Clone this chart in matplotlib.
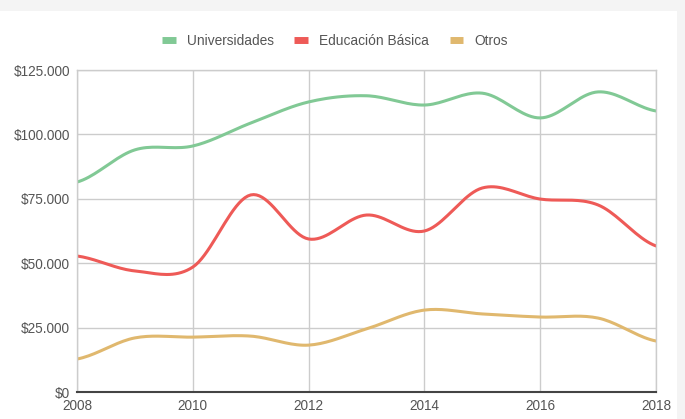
import matplotlib
matplotlib.use('Agg')
import matplotlib.pyplot as plt
from matplotlib.patches import Rectangle
import numpy as np

plt.rcParams['font.family'] = ['Liberation Sans', 'DejaVu Sans']

years = [2008, 2009, 2010, 2011, 2012, 2013, 2014, 2015, 2016, 2017, 2018]
universidades = [81500, 94000, 95500, 104400, 112600, 115000, 111400, 116000, 106400, 116500, 109100]
educacion = [52800, 47000, 48500, 76500, 59400, 68700, 62500, 79200, 74900, 72600, 56700]
otros = [12800, 21000, 21300, 21700, 18200, 24500, 31800, 30300, 29100, 28700, 19800]

names = ['Universidades', 'Educación Básica', 'Otros']
colors = ['#81c995', '#ee5a57', '#e0b86e']
yticks = [0, 25000, 50000, 75000, 100000, 125000]
xticks = [2008, 2010, 2012, 2014, 2016, 2018]


def smooth(x, y, n=20):
    # catmull-rom spline through the yearly points (drawing only)
    x = np.asarray(x, float)
    y = np.asarray(y, float)
    px = np.concatenate([[2 * x[0] - x[1]], x, [2 * x[-1] - x[-2]]])
    py = np.concatenate([[y[0]], y, [y[-1]]])
    xs, ys = [], []
    t = np.linspace(0, 1, n, endpoint=False)
    for i in range(1, len(px) - 2):
        for p, out in ((px, xs), (py, ys)):
            p0, p1, p2, p3 = p[i - 1], p[i], p[i + 1], p[i + 2]
            out.extend(0.5 * (2 * p1 + (-p0 + p2) * t
                              + (2 * p0 - 5 * p1 + 4 * p2 - p3) * t ** 2
                              + (-p0 + 3 * p1 - 3 * p2 + p3) * t ** 3))
    xs.append(x[-1])
    ys.append(y[-1])
    return np.array(xs), np.array(ys)


fig = plt.figure(figsize=(6.85, 4.19), dpi=100)
fig.patch.set_facecolor('#f4f4f4')
fig.patches.append(Rectangle((0, 0), 677 / 685, 1 - 11 / 419, transform=fig.transFigure,
                             facecolor='white', edgecolor='none', zorder=-10))

ax = fig.add_axes([77 / 685, 1 - 392 / 419, (656 - 77) / 685, (392 - 70) / 419])
ax.set_facecolor('none')

for vals, name, c in zip([universidades, educacion, otros], names, colors):
    sx, sy = smooth(years, vals)
    ax.plot(sx, sy, color=c, lw=2.2, label=name, solid_capstyle='round')

ax.set_xlim(2008, 2018)
ax.set_ylim(0, 125000)
ax.set_xticks(xticks)
ax.set_yticks(yticks)
ax.set_yticklabels(['$0' if v == 0 else '$' + f'{v:,}'.replace(',', '.') for v in yticks])
ax.grid(True, color='#cccccc', lw=1)
ax.set_axisbelow(True)
for s in ['top', 'right', 'left']:
    ax.spines[s].set_color('#cccccc')
    ax.spines[s].set_linewidth(1)
ax.spines['bottom'].set_color('#444444')
ax.spines['bottom'].set_linewidth(1.5)
ax.tick_params(length=0, labelsize=9.8, colors='#555555', pad=5)
ax.tick_params(axis='x', pad=5)

leg = fig.legend(loc='center', bbox_to_anchor=(335 / 685, 1 - 41 / 419), ncol=3,
                 frameon=False, fontsize=9.9, handlelength=1.0, handletextpad=0.8,
                 columnspacing=1.5)
for h in leg.get_lines():
    h.set_linewidth(5)
    h.set_solid_capstyle('butt')
for t in leg.get_texts():
    t.set_color('#555555')

fig.savefig('out.png', dpi=100, facecolor=fig.get_facecolor())
